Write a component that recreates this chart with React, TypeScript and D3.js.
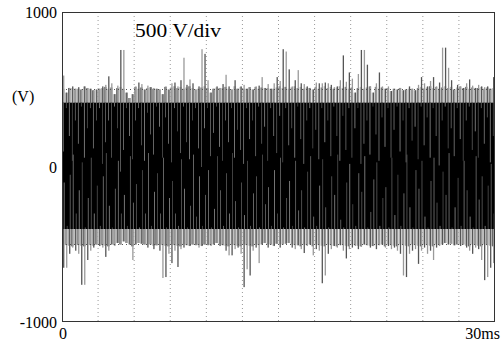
import React from "react";
import * as d3 from "d3";

// Time span (ms) and voltage range (V)
const timeDomain = [0, 30];
const voltDomain = [-1000, 1000];
const yTickLabels = [
  { v: 1000, label: "1000" },
  { v: 0, label: "0" },
  { v: -1000, label: "-1000" },
];
const xGridTimes = [2.5, 5, 7.5, 10, 12.5, 15, 17.5, 20, 22.5, 25, 27.5];
const yGridVolts = [500, -500];

// Estimated positive peak of each switching pulse (144 pulses over 30 ms)
const upperPeak = [
  590, 480, 510, 520, 505, 515, 500, 520, 510, 505, 495, 500,
  505, 520, 530, 585, 540, 470, 525, 755, 755, 480, 445, 470,
  520, 545, 535, 500, 525, 515, 510, 505, 500, 470, 520, 500,
  540, 545, 520, 560, 705, 530, 565, 540, 500, 520, 760, 730,
  560, 480, 505, 520, 510, 535, 595, 520, 500, 560, 505, 520,
  530, 505, 515, 500, 520, 525, 580, 510, 535, 505, 540, 580,
  555, 760, 745, 630, 520, 560, 625, 540, 535, 520, 510, 500,
  545, 540, 540, 545, 540, 530, 515, 520, 560, 720, 550, 610,
  570, 480, 600, 755, 755, 660, 520, 480, 540, 610, 520, 505,
  520, 490, 505, 500, 510, 495, 500, 520, 505, 495, 530, 580,
  540, 520, 555, 580, 520, 545, 770, 770, 640, 560, 500, 530,
  520, 510, 540, 565, 525, 510, 530, 520, 515, 520, 505, 580,
];

// Estimated negative peak of each pulse
const lowerPeak = [
  -650, -650, -560, -520, -540, -560, -760, -760, -600, -540, -520, -500,
  -510, -520, -580, -540, -500, -510, -490, -500, -480, -490, -500, -600,
  -500, -490, -495, -500, -520, -500, -530, -505, -540, -716, -710, -560,
  -620, -540, -645, -530, -520, -505, -510, -500, -505, -520, -510, -500,
  -505, -510, -500, -490, -510, -505, -540, -570, -570, -530, -520, -560,
  -775, -660, -700, -540, -520, -620, -500, -490, -520, -500, -510, -495,
  -520, -500, -495, -490, -520, -530, -505, -530, -555, -510, -500, -570,
  -530, -540, -750, -700, -560, -530, -510, -520, -505, -540, -590, -530,
  -520, -510, -530, -515, -500, -505, -520, -510, -530, -505, -500, -520,
  -510, -530, -520, -540, -560, -700, -710, -560, -540, -530, -625, -540,
  -520, -560, -540, -600, -520, -510, -500, -490, -500, -495, -505, -500,
  -510, -500, -520, -540, -560, -520, -530, -600, -730, -710, -650, -620,
];

// Estimated level where the positive edge of each pulse ends inside the dense band
const upperEdgeEnd = [
  100, 380, 200, 40, 300, 150, 390, 60, 250, 380, 120, 300,
  380, 20, 160, 300, 60, 390, 250, -30, 110, 380, 200, 50,
  300, 380, 140, 40, 350, 210, 80, 390, 260, 60, 320, 150,
  30, 380, 230, 90, 390, 160, 50, 300, 380, 120, 0, 250,
  380, 70, 220, 390, 130, 40, 300, 160, 380, 60, 240, 110,
  20, 380, 180, 300, 70, 390, 150, 260, 40, 380, 200, 90,
  330, 30, 380, 140, 250, 60, 390, 180, 20, 300, 380, 120,
  240, 50, 380, 160, 300, 70, 390, 200, 40, 330, 110, 380,
  60, 250, 380, 20, 150, 300, 80, 390, 210, 40, 320, 130,
  380, 60, 240, 390, 100, 300, 30, 380, 170, 260, 50, 390,
  140, 320, 60, 380, 200, 10, 300, 390, 120, 250, 70, 380,
  180, 40, 300, 390, 110, 230, 60, 380, 150, 320, 30, 200,
];

// Estimated level where the negative edge of each pulse ends inside the dense band
const lowerEdgeEnd = [
  -100, -380, -50, 80, -300, -150, 30, -390, -200, 60, -300, -120,
  -380, -60, 90, -250, -390, -140, 40, -300, -180, -380, 70, -230,
  -110, -390, -20, -300, 90, -380, -160, -40, -300, 60, -390, -200,
  -90, -300, -380, 50, -140, -390, -250, 80, -320, -60, -380, -180,
  -20, -390, -270, 70, -150, -380, -40, -300, 90, -220, -390, -100,
  -310, 40, -380, -170, -60, -390, 80, -240, -130, -380, -20, -300,
  60, -390, -200, -90, -380, 40, -280, -150, -390, -30, 70, -320,
  -380, -120, 50, -260, -390, -60, -180, 80, -340, -390, -100, 20,
  -240, -380, -40, -160, 70, -390, -290, -80, 30, -380, -200, -130,
  -390, 60, -310, -50, -380, -170, 80, -260, -390, -20, -140, 40,
  -320, -390, -90, 60, -230, -380, -30, -180, 90, -390, -260, -70,
  -380, 40, -150, -320, -390, 70, -210, -60, -380, -120, 20, -300,
];

// Edges of the dense (black) band and the usual envelope level
const bandTop = 415;
const bandBottom = -400;
const envTop = 505;
const envBottom = -500;

const W = 501;
const H = 349;
const plot = { left: 62, right: 495, top: 12, bottom: 322 };
const greys = ["#8a8a8a", "#b4b4b4", "#666666", "#c4c4c4", "#9a9a9a", "#a6a6a6", "#777777", "#bdbdbd"];
const inner = ["#8e8e8e", "#6a6a6a", "#a4a4a4", "#5c5c5c", "#7c7c7c"];

export default function App() {
  const x = d3.scaleLinear().domain(timeDomain).range([plot.left, plot.right]);
  const y = d3.scaleLinear().domain(voltDomain).range([plot.bottom, plot.top]);
  const n = upperPeak.length;
  const dt = (timeDomain[1] - timeDomain[0]) / n;
  const sw = x(dt) - x(0);
  const font = "'Liberation Serif', 'Times New Roman', serif";

  return (
    <svg
      width={W}
      height={H}
      style={{ position: "fixed", left: 0, top: 0, background: "#fff" }}
    >
      <rect x={0} y={0} width={W} height={H} fill="#fff" />
      {/* vertical dotted grid */}
      {xGridTimes.map((t) => (
        <line
          key={"vx" + t}
          x1={x(t)}
          x2={x(t)}
          y1={plot.top}
          y2={plot.bottom}
          stroke="#999"
          strokeWidth={1}
          strokeDasharray="1,3"
        />
      ))}
      {/* envelope: base part of each pulse */}
      {upperPeak.map((v, i) => {
        const top = Math.min(v, envTop + ((i * 7) % 5) * 4);
        return (
          <rect
            key={"ub" + i}
            x={x(i * dt)}
            width={sw * 0.8}
            y={y(top)}
            height={y(bandTop) - y(top) + 1}
            fill={greys[i % greys.length]}
          />
        );
      })}
      {lowerPeak.map((v, i) => {
        const bot = Math.max(v, envBottom - ((i * 5) % 4) * 4);
        return (
          <rect
            key={"lb" + i}
            x={x(i * dt)}
            width={sw * 0.8}
            y={y(bandBottom) - 1}
            height={y(bot) - y(bandBottom) + 1}
            fill={greys[(i + 3) % greys.length]}
          />
        );
      })}
      {/* thin peak lines */}
      {upperPeak.map((v, i) => (
        <rect
          key={"up" + i}
          x={x(i * dt) + sw * 0.35}
          width={1.3}
          y={y(v)}
          height={y(bandTop) - y(v)}
          fill={i % 2 ? "#555" : "#9a9a9a"}
        />
      ))}
      {lowerPeak.map((v, i) => (
        <rect
          key={"lp" + i}
          x={x(i * dt) + sw * 0.35}
          width={1.3}
          y={y(bandBottom)}
          height={y(v) - y(bandBottom)}
          fill={i % 2 ? "#9a9a9a" : "#555"}
        />
      ))}
      {/* dense band */}
      <rect
        x={plot.left}
        width={plot.right - plot.left}
        y={y(bandTop)}
        height={y(bandBottom) - y(bandTop)}
        fill="#000"
      />
      {/* edges inside the band */}
      {upperEdgeEnd.map((v, i) => (
        <rect
          key={"ue" + i}
          x={x(i * dt) + sw * 0.3}
          width={0.7}
          y={y(bandTop)}
          height={Math.max(0, y(v) - y(bandTop))}
          fill={inner[i % inner.length]}
        />
      ))}
      {lowerEdgeEnd.map((v, i) => (
        <rect
          key={"le" + i}
          x={x(i * dt) + sw * 0.6}
          width={0.7}
          y={y(v)}
          height={Math.max(0, y(bandBottom) - y(v))}
          fill={inner[(i + 2) % inner.length]}
        />
      ))}
      {/* horizontal dotted grid */}
      {yGridVolts.map((v) => (
        <line
          key={"hy" + v}
          x1={plot.left}
          x2={plot.right}
          y1={y(v)}
          y2={y(v)}
          stroke="#555"
          strokeWidth={1}
          strokeDasharray="1,3"
        />
      ))}
      {/* frame */}
      <rect
        x={plot.left + 0.5}
        y={plot.top + 0.5}
        width={plot.right - plot.left - 1}
        height={plot.bottom - plot.top - 1}
        fill="none"
        stroke="#333"
        strokeWidth={1}
      />
      {/* y tick labels */}
      {yTickLabels.map((d) => (
        <text
          key={"yt" + d.v}
          x={57}
          y={y(d.v) + 5.5}
          textAnchor="end"
          fontFamily={font}
          fontSize={16}
        >
          {d.label}
        </text>
      ))}
      <text x={12} y={102} fontFamily={font} fontSize={16}>
        (V)
      </text>
      <text x={59} y={339} fontFamily={font} fontSize={16}>
        0
      </text>
      <text x={500} y={339} textAnchor="end" fontFamily={font} fontSize={16}>
        30ms
      </text>
      <text
        x={135}
        y={37}
        fontFamily={font}
        fontSize={18}
        textLength={86}
        lengthAdjust="spacingAndGlyphs"
      >
        500 V/div
      </text>
    </svg>
  );
}
